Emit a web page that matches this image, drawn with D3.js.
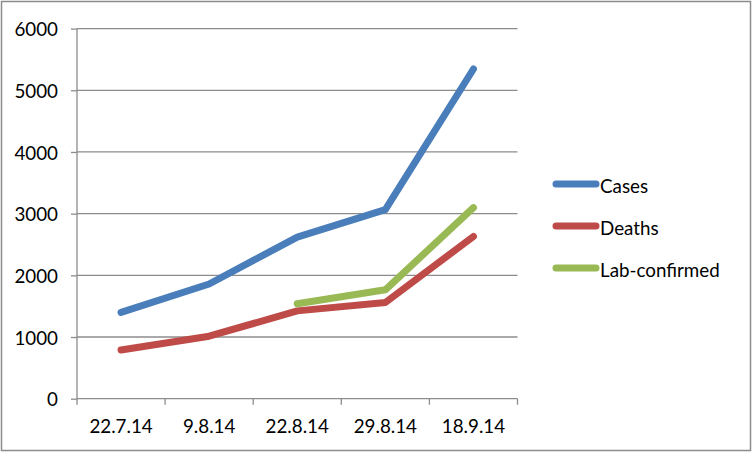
<!DOCTYPE html>
<html><head><meta charset="utf-8">
<script src="https://cdn.jsdelivr.net/npm/d3@7"></script>
<style>body{margin:0;background:#fff}svg{display:block}</style>
</head><body>
<script>
const categories = ["22.7.14","9.8.14","22.8.14","29.8.14","18.9.14"];
const cases = [1400, 1860, 2620, 3065, 5345];
const deaths = [790, 1013, 1424, 1560, 2630];
const labConfirmed = [null, null, 1540, 1765, 3097];
const yTicks = [0,1000,2000,3000,4000,5000,6000];
const seriesNames = ["Cases","Deaths","Lab-confirmed"];
const colors = ["#4a7ebb","#be4b48","#98b954"];

const W = 753, H = 453;
const svg = d3.select("body").append("svg").attr("width",W).attr("height",H);
svg.append("rect").attr("x",1.5).attr("y",1.5).attr("width",W-4).attr("height",H-4)
  .attr("fill","#fff").attr("stroke","#8c8c8c").attr("stroke-width",1.5);

const x = d3.scaleBand().domain(categories).range([77,517.5]);
const y = d3.scaleLinear().domain([0,6000]).range([398.7,28.6]);
const font = "Lato, 'Open Sans', sans-serif";
const fs = 18.8;

// gridlines
svg.append("g").selectAll("line").data(yTicks.filter(d=>d>0)).join("line")
  .attr("x1",77).attr("x2",517.5).attr("y1",d=>y(d)).attr("y2",d=>y(d))
  .attr("stroke","#8c8c8c").attr("stroke-width",1.3);

// y axis
const yAxis = svg.append("g").attr("transform","translate(77,0)")
  .call(d3.axisLeft(y).tickValues(yTicks).tickSize(6).tickPadding(13).tickFormat(d3.format("d")));
yAxis.select(".domain").attr("stroke","#8c8c8c").attr("stroke-width",1.3).attr("d","M0,28.6V398.7");
yAxis.selectAll(".tick line").attr("stroke","#8c8c8c").attr("stroke-width",1.3);
yAxis.selectAll("text").attr("font-family",font).attr("font-size",fs).attr("fill","#000").attr("dy","0.38em");

// x axis
const xAxis = svg.append("g").attr("transform","translate(0,398.7)")
  .call(d3.axisBottom(x).tickSize(0).tickPadding(0));
xAxis.select(".domain").attr("stroke","#8c8c8c").attr("stroke-width",1.3).attr("d","M77,0H517.5");
xAxis.selectAll("text").attr("font-family",font).attr("font-size",fs).attr("fill","#000").attr("y",34).attr("dy",0);
const xt = categories.map(c=>x(c)).concat([517.5]);
xAxis.append("g").selectAll("line").data(xt).join("line")
  .attr("x1",d=>d).attr("x2",d=>d).attr("y1",0).attr("y2",6)
  .attr("stroke","#8c8c8c").attr("stroke-width",1.3);

const cx = c => x(c) + x.bandwidth()/2;
const line = d3.line().defined(d=>d.v!=null).x(d=>cx(d.c)).y(d=>y(d.v));
const data = [cases, deaths, labConfirmed];
data.forEach((s,i)=>{
  svg.append("path").datum(s.map((v,j)=>({c:categories[j],v})))
    .attr("d",line).attr("fill","none").attr("stroke",colors[i]).attr("stroke-width",7)
    .attr("stroke-linecap","round").attr("stroke-linejoin","round");
});

// legend
const lg = svg.append("g");
seriesNames.forEach((n,i)=>{
  const ly = 184 + i*42;
  lg.append("line").attr("x1",556).attr("x2",596).attr("y1",ly).attr("y2",ly)
    .attr("stroke",colors[i]).attr("stroke-width",7).attr("stroke-linecap","round");
  lg.append("text").attr("x",600).attr("y",ly+8.5).text(n)
    .attr("font-family",font).attr("font-size",fs).attr("fill","#000");
});
</script>
</body></html>
